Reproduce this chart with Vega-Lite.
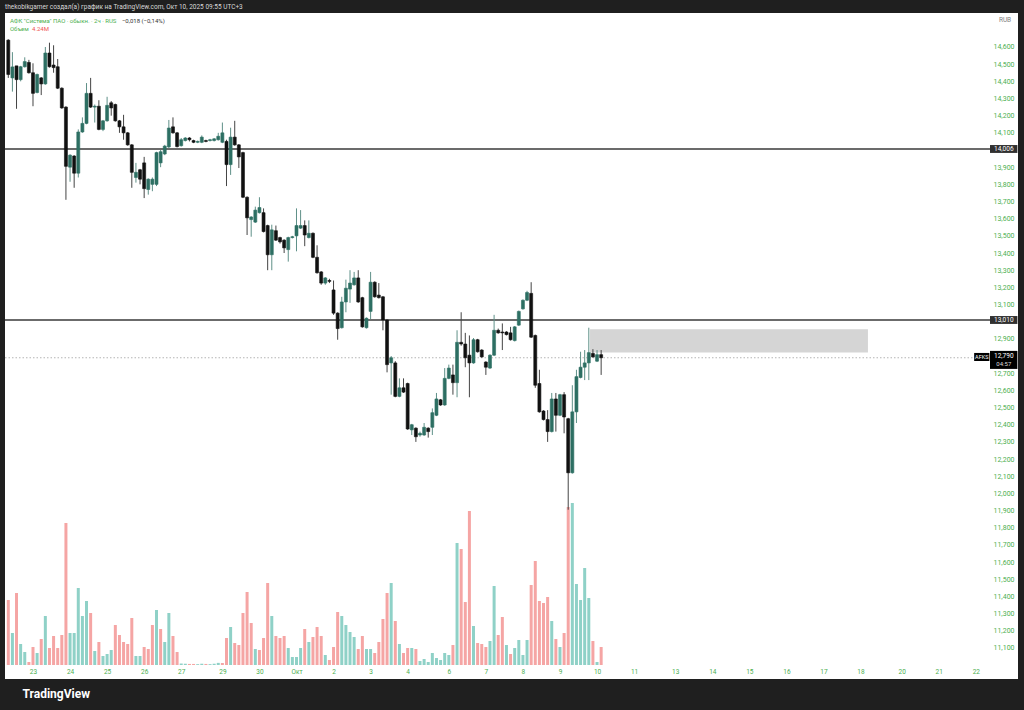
{
  "$schema": "https://vega.github.io/schema/vega-lite/v6.json",
  "width": 1013,
  "height": 666,
  "autosize": {"type": "none"},
  "padding": {"left": 5, "top": 13, "right": 6, "bottom": 31},
  "background": "#1f1f1f",
  "view": {"fill": "#ffffff", "stroke": null},
  "config": {"font": "Roboto", "axis": {"labelOverlap": false}, "scale": {"continuousPadding": 0}},
  "title": {
    "text": "thekobikgamer создал(а) график на TradingView.com, Окт 10, 2025 09:55 UTC+3",
    "anchor": "start",
    "color": "#d8d8d8",
    "fontSize": 6.5,
    "fontWeight": "normal",
    "offset": 3,
    "frame": "group"
  },
  "datasets": {
    "bars": [
      {"i":-6,"o":14.64,"h":14.645,"l":14.42,"c":14.44,"v":15.31,"d":"d"},
      {"i":-5,"o":14.42,"h":14.57,"l":14.34,"c":14.484,"v":7.54,"d":"u"},
      {"i":-4,"o":14.49,"h":14.49,"l":14.24,"c":14.41,"v":16.96,"d":"d"},
      {"i":-3,"o":14.41,"h":14.49,"l":14.4,"c":14.485,"v":4.95,"d":"u"},
      {"i":-2,"o":14.485,"h":14.54,"l":14.48,"c":14.515,"v":3.06,"d":"u"},
      {"i":-1,"o":14.51,"h":14.525,"l":14.445,"c":14.45,"v":0.71,"d":"d"},
      {"i":0,"o":14.45,"h":14.505,"l":14.255,"c":14.33,"v":4.24,"d":"d"},
      {"i":1,"o":14.335,"h":14.445,"l":14.33,"c":14.44,"v":2.83,"d":"u"},
      {"i":2,"o":14.42,"h":14.425,"l":14.32,"c":14.385,"v":6.13,"d":"d"},
      {"i":3,"o":14.385,"h":14.6,"l":14.38,"c":14.565,"v":11.54,"d":"u"},
      {"i":4,"o":14.565,"h":14.625,"l":14.48,"c":14.485,"v":4.01,"d":"d"},
      {"i":5,"o":14.495,"h":14.61,"l":14.45,"c":14.48,"v":6.83,"d":"d"},
      {"i":6,"o":14.485,"h":14.53,"l":14.355,"c":14.36,"v":4.01,"d":"d"},
      {"i":7,"o":14.36,"h":14.365,"l":14.24,"c":14.245,"v":7.07,"d":"d"},
      {"i":8,"o":14.25,"h":14.255,"l":13.71,"c":13.905,"v":33.46,"d":"d"},
      {"i":9,"o":13.9,"h":13.975,"l":13.815,"c":13.97,"v":7.54,"d":"u"},
      {"i":10,"o":13.965,"h":13.97,"l":13.78,"c":13.865,"v":7.54,"d":"u"},
      {"i":11,"o":13.865,"h":14.12,"l":13.84,"c":14.105,"v":18.14,"d":"u"},
      {"i":12,"o":14.105,"h":14.19,"l":14.1,"c":14.155,"v":11.54,"d":"u"},
      {"i":13,"o":14.155,"h":14.39,"l":14.15,"c":14.33,"v":15.08,"d":"u"},
      {"i":14,"o":14.33,"h":14.42,"l":14.245,"c":14.25,"v":12.25,"d":"d"},
      {"i":15,"o":14.25,"h":14.265,"l":14.16,"c":14.255,"v":3.3,"d":"u"},
      {"i":16,"o":14.255,"h":14.29,"l":14.115,"c":14.12,"v":5.42,"d":"d"},
      {"i":17,"o":14.12,"h":14.175,"l":14.11,"c":14.17,"v":2.12,"d":"u"},
      {"i":18,"o":14.17,"h":14.31,"l":14.165,"c":14.26,"v":2.59,"d":"u"},
      {"i":19,"o":14.275,"h":14.285,"l":14.2,"c":14.245,"v":3.53,"d":"u"},
      {"i":20,"o":14.265,"h":14.27,"l":14.165,"c":14.17,"v":9.42,"d":"d"},
      {"i":21,"o":14.17,"h":14.175,"l":14.1,"c":14.135,"v":7.07,"d":"d"},
      {"i":22,"o":14.135,"h":14.205,"l":14.06,"c":14.1,"v":5.42,"d":"d"},
      {"i":23,"o":14.1,"h":14.105,"l":14.025,"c":14.03,"v":4.95,"d":"d"},
      {"i":24,"o":14.03,"h":14.035,"l":13.78,"c":13.87,"v":11.07,"d":"d"},
      {"i":25,"o":13.84,"h":13.925,"l":13.81,"c":13.87,"v":2.12,"d":"u"},
      {"i":26,"o":13.885,"h":13.89,"l":13.8,"c":13.83,"v":2.12,"d":"u"},
      {"i":27,"o":13.925,"h":13.96,"l":13.72,"c":13.775,"v":4.24,"d":"d"},
      {"i":28,"o":13.77,"h":13.835,"l":13.74,"c":13.83,"v":3.77,"d":"d"},
      {"i":29,"o":13.8,"h":13.84,"l":13.76,"c":13.83,"v":9.42,"d":"d"},
      {"i":30,"o":13.8,"h":13.99,"l":13.79,"c":13.985,"v":12.96,"d":"u"},
      {"i":31,"o":13.925,"h":14.0,"l":13.9,"c":13.99,"v":8.48,"d":"d"},
      {"i":32,"o":13.977,"h":14.03,"l":13.97,"c":14.023,"v":5.42,"d":"u"},
      {"i":33,"o":14.018,"h":14.175,"l":14.01,"c":14.128,"v":12.25,"d":"u"},
      {"i":34,"o":14.135,"h":14.19,"l":14.095,"c":14.1,"v":6.83,"d":"d"},
      {"i":35,"o":14.1,"h":14.105,"l":14.015,"c":14.02,"v":3.06,"d":"d"},
      {"i":36,"o":14.025,"h":14.07,"l":14.02,"c":14.06,"v":0.35,"d":"u"},
      {"i":37,"o":14.055,"h":14.075,"l":14.05,"c":14.07,"v":0.3,"d":"u"},
      {"i":38,"o":14.07,"h":14.075,"l":14.05,"c":14.06,"v":0.25,"d":"d"},
      {"i":39,"o":14.055,"h":14.06,"l":14.04,"c":14.045,"v":0.25,"d":"d"},
      {"i":40,"o":14.045,"h":14.055,"l":14.04,"c":14.05,"v":0.2,"d":"u"},
      {"i":41,"o":14.045,"h":14.085,"l":14.04,"c":14.075,"v":0.3,"d":"u"},
      {"i":42,"o":14.055,"h":14.06,"l":14.045,"c":14.05,"v":0.25,"d":"d"},
      {"i":43,"o":14.055,"h":14.065,"l":14.05,"c":14.06,"v":0.2,"d":"u"},
      {"i":44,"o":14.055,"h":14.07,"l":14.05,"c":14.065,"v":0.3,"d":"u"},
      {"i":45,"o":14.06,"h":14.1,"l":14.055,"c":14.08,"v":0.5,"d":"u"},
      {"i":46,"o":14.045,"h":14.16,"l":14.04,"c":14.1,"v":0.47,"d":"d"},
      {"i":47,"o":14.05,"h":14.06,"l":13.79,"c":13.915,"v":6.36,"d":"d"},
      {"i":48,"o":13.915,"h":14.13,"l":13.855,"c":14.075,"v":8.95,"d":"u"},
      {"i":49,"o":14.075,"h":14.17,"l":14.025,"c":14.03,"v":5.18,"d":"d"},
      {"i":50,"o":14.03,"h":14.035,"l":13.895,"c":13.96,"v":4.71,"d":"d"},
      {"i":51,"o":13.985,"h":13.99,"l":13.72,"c":13.725,"v":12.25,"d":"d"},
      {"i":52,"o":13.725,"h":13.73,"l":13.505,"c":13.605,"v":17.2,"d":"d"},
      {"i":53,"o":13.595,"h":13.615,"l":13.495,"c":13.61,"v":9.9,"d":"d"},
      {"i":54,"o":13.58,"h":13.67,"l":13.575,"c":13.65,"v":3.77,"d":"u"},
      {"i":55,"o":13.635,"h":13.725,"l":13.63,"c":13.665,"v":3.53,"d":"d"},
      {"i":56,"o":13.635,"h":13.66,"l":13.52,"c":13.525,"v":6.36,"d":"d"},
      {"i":57,"o":13.56,"h":13.565,"l":13.3,"c":13.39,"v":19.32,"d":"d"},
      {"i":58,"o":13.39,"h":13.565,"l":13.3,"c":13.535,"v":11.54,"d":"u"},
      {"i":59,"o":13.53,"h":13.56,"l":13.47,"c":13.475,"v":6.83,"d":"d"},
      {"i":60,"o":13.49,"h":13.495,"l":13.455,"c":13.465,"v":6.36,"d":"d"},
      {"i":61,"o":13.475,"h":13.48,"l":13.4,"c":13.43,"v":6.83,"d":"d"},
      {"i":62,"o":13.42,"h":13.495,"l":13.35,"c":13.49,"v":4.01,"d":"u"},
      {"i":63,"o":13.49,"h":13.5,"l":13.485,"c":13.495,"v":1.88,"d":"u"},
      {"i":64,"o":13.5,"h":13.66,"l":13.41,"c":13.56,"v":1.88,"d":"u"},
      {"i":65,"o":13.545,"h":13.65,"l":13.54,"c":13.56,"v":4.01,"d":"u"},
      {"i":66,"o":13.56,"h":13.59,"l":13.44,"c":13.505,"v":8.48,"d":"d"},
      {"i":67,"o":13.49,"h":13.59,"l":13.485,"c":13.515,"v":5.42,"d":"u"},
      {"i":68,"o":13.515,"h":13.52,"l":13.37,"c":13.375,"v":6.6,"d":"d"},
      {"i":69,"o":13.375,"h":13.445,"l":13.28,"c":13.285,"v":8.95,"d":"d"},
      {"i":70,"o":13.29,"h":13.295,"l":13.215,"c":13.225,"v":6.83,"d":"d"},
      {"i":71,"o":13.225,"h":13.26,"l":13.215,"c":13.255,"v":2.36,"d":"u"},
      {"i":72,"o":13.24,"h":13.25,"l":13.225,"c":13.235,"v":1.18,"d":"d"},
      {"i":73,"o":13.185,"h":13.24,"l":13.04,"c":13.05,"v":4.24,"d":"d"},
      {"i":74,"o":13.05,"h":13.055,"l":12.895,"c":12.96,"v":12.49,"d":"d"},
      {"i":75,"o":12.965,"h":13.145,"l":12.96,"c":13.115,"v":11.54,"d":"u"},
      {"i":76,"o":13.115,"h":13.245,"l":13.055,"c":13.195,"v":9.42,"d":"u"},
      {"i":77,"o":13.19,"h":13.3,"l":13.11,"c":13.225,"v":7.77,"d":"u"},
      {"i":78,"o":13.215,"h":13.29,"l":13.21,"c":13.255,"v":6.6,"d":"u"},
      {"i":79,"o":13.255,"h":13.3,"l":13.11,"c":13.115,"v":3.77,"d":"d"},
      {"i":80,"o":13.14,"h":13.145,"l":12.965,"c":12.97,"v":6.83,"d":"d"},
      {"i":81,"o":12.965,"h":13.025,"l":12.96,"c":13.02,"v":3.77,"d":"u"},
      {"i":82,"o":13.06,"h":13.29,"l":13.015,"c":13.23,"v":3.77,"d":"u"},
      {"i":83,"o":13.23,"h":13.235,"l":13.14,"c":13.145,"v":2.83,"d":"d"},
      {"i":84,"o":13.155,"h":13.225,"l":13.135,"c":13.14,"v":5.42,"d":"d"},
      {"i":85,"o":13.145,"h":13.15,"l":12.95,"c":13.01,"v":10.84,"d":"d"},
      {"i":86,"o":13.01,"h":13.015,"l":12.705,"c":12.75,"v":16.96,"d":"d"},
      {"i":87,"o":12.76,"h":12.8,"l":12.575,"c":12.79,"v":19.32,"d":"u"},
      {"i":88,"o":12.76,"h":12.77,"l":12.56,"c":12.565,"v":10.37,"d":"d"},
      {"i":89,"o":12.565,"h":12.67,"l":12.56,"c":12.615,"v":4.95,"d":"u"},
      {"i":90,"o":12.615,"h":12.67,"l":12.585,"c":12.59,"v":2.83,"d":"d"},
      {"i":91,"o":12.64,"h":12.645,"l":12.37,"c":12.375,"v":4.01,"d":"d"},
      {"i":92,"o":12.37,"h":12.405,"l":12.34,"c":12.4,"v":4.01,"d":"u"},
      {"i":93,"o":12.38,"h":12.385,"l":12.3,"c":12.33,"v":3.77,"d":"d"},
      {"i":94,"o":12.34,"h":12.36,"l":12.33,"c":12.35,"v":0.94,"d":"u"},
      {"i":95,"o":12.34,"h":12.41,"l":12.335,"c":12.385,"v":1.41,"d":"u"},
      {"i":96,"o":12.38,"h":12.385,"l":12.325,"c":12.36,"v":0.71,"d":"u"},
      {"i":97,"o":12.385,"h":12.495,"l":12.34,"c":12.47,"v":2.83,"d":"u"},
      {"i":98,"o":12.455,"h":12.585,"l":12.45,"c":12.55,"v":1.65,"d":"u"},
      {"i":99,"o":12.545,"h":12.55,"l":12.51,"c":12.515,"v":1.18,"d":"u"},
      {"i":100,"o":12.515,"h":12.73,"l":12.51,"c":12.67,"v":2.83,"d":"u"},
      {"i":101,"o":12.67,"h":12.75,"l":12.665,"c":12.73,"v":2.36,"d":"u"},
      {"i":102,"o":12.69,"h":12.75,"l":12.575,"c":12.645,"v":4.71,"d":"d"},
      {"i":103,"o":12.645,"h":12.95,"l":12.56,"c":12.88,"v":28.74,"d":"u"},
      {"i":104,"o":12.88,"h":13.055,"l":12.86,"c":12.87,"v":27.33,"d":"d"},
      {"i":105,"o":12.87,"h":12.935,"l":12.735,"c":12.79,"v":14.84,"d":"d"},
      {"i":106,"o":12.805,"h":12.92,"l":12.56,"c":12.76,"v":36.28,"d":"d"},
      {"i":107,"o":12.76,"h":12.905,"l":12.755,"c":12.895,"v":9.19,"d":"u"},
      {"i":108,"o":12.895,"h":12.9,"l":12.82,"c":12.825,"v":5.18,"d":"d"},
      {"i":109,"o":12.835,"h":12.84,"l":12.79,"c":12.795,"v":4.95,"d":"d"},
      {"i":110,"o":12.765,"h":12.77,"l":12.69,"c":12.735,"v":4.24,"d":"d"},
      {"i":111,"o":12.73,"h":12.81,"l":12.725,"c":12.805,"v":5.65,"d":"u"},
      {"i":112,"o":12.805,"h":13.04,"l":12.8,"c":12.95,"v":18.61,"d":"u"},
      {"i":113,"o":12.95,"h":12.96,"l":12.93,"c":12.935,"v":7.07,"d":"d"},
      {"i":114,"o":12.94,"h":12.99,"l":12.835,"c":12.935,"v":11.31,"d":"d"},
      {"i":115,"o":12.94,"h":12.945,"l":12.92,"c":12.925,"v":4.71,"d":"u"},
      {"i":116,"o":12.935,"h":12.97,"l":12.89,"c":12.895,"v":2.59,"d":"d"},
      {"i":117,"o":12.89,"h":12.975,"l":12.885,"c":12.97,"v":4.01,"d":"u"},
      {"i":118,"o":12.98,"h":13.065,"l":12.975,"c":13.06,"v":5.89,"d":"u"},
      {"i":119,"o":13.075,"h":13.13,"l":13.07,"c":13.125,"v":2.36,"d":"u"},
      {"i":120,"o":13.125,"h":13.18,"l":13.12,"c":13.17,"v":5.89,"d":"u"},
      {"i":121,"o":13.165,"h":13.23,"l":12.905,"c":12.91,"v":18.85,"d":"d"},
      {"i":122,"o":12.92,"h":12.925,"l":12.615,"c":12.63,"v":24.5,"d":"d"},
      {"i":123,"o":12.64,"h":12.72,"l":12.47,"c":12.475,"v":15.08,"d":"d"},
      {"i":124,"o":12.48,"h":12.485,"l":12.425,"c":12.43,"v":14.61,"d":"d"},
      {"i":125,"o":12.43,"h":12.485,"l":12.3,"c":12.36,"v":16.02,"d":"d"},
      {"i":126,"o":12.36,"h":12.585,"l":12.355,"c":12.55,"v":10.37,"d":"u"},
      {"i":127,"o":12.55,"h":12.585,"l":12.36,"c":12.455,"v":6.13,"d":"d"},
      {"i":128,"o":12.455,"h":12.58,"l":12.45,"c":12.575,"v":4.24,"d":"u"},
      {"i":129,"o":12.575,"h":12.59,"l":12.35,"c":12.445,"v":7.54,"d":"d"},
      {"i":130,"o":12.435,"h":12.44,"l":11.905,"c":12.12,"v":37.22,"d":"d"},
      {"i":131,"o":12.12,"h":12.63,"l":12.115,"c":12.475,"v":38.17,"d":"u"},
      {"i":132,"o":12.475,"h":12.72,"l":12.41,"c":12.68,"v":19.08,"d":"u"},
      {"i":133,"o":12.675,"h":12.825,"l":12.67,"c":12.735,"v":15.31,"d":"u"},
      {"i":134,"o":12.735,"h":12.835,"l":12.66,"c":12.76,"v":22.85,"d":"u"},
      {"i":135,"o":12.76,"h":12.965,"l":12.66,"c":12.82,"v":15.79,"d":"u"},
      {"i":136,"o":12.815,"h":12.84,"l":12.79,"c":12.795,"v":5.65,"d":"d"},
      {"i":137,"o":12.77,"h":12.835,"l":12.765,"c":12.808,"v":0.71,"d":"u"},
      {"i":138,"o":12.808,"h":12.835,"l":12.69,"c":12.79,"v":4.24,"d":"d"}
    ],
    "levels": [{"p": 14.006, "t": "14,006"}, {"p": 13.01, "t": "13,010"}],
    "zone": [{"a": 135.3, "b": 202.8, "lo": 12.82, "hi": 12.956}],
    "one": [{}]
  },
  "resolve": {"scale": {"y": "independent"}},
  "layer": [
    {
      "data": {"name": "bars"},
      "mark": {"type": "bar", "size": 3},
      "encoding": {
        "x": {
          "field": "i", "type": "quantitative",
          "scale": {"domain": [-6.8, 239.25], "nice": false, "zero": false, "padding": 0},
          "axis": {
            "orient": "bottom", "offset": -14, "tickCount": 300,
            "values": [0, 9, 18, 27, 36, 46, 55, 64, 73, 82, 91, 101, 110, 119, 128, 137, 146, 156, 165, 174, 183, 192, 201, 211, 220, 229],
            "labelExpr": "['23','24','25','26','27','29','30','Окт','2','3','4','6','7','8','9','10','11','13','14','15','16','17','18','20','21','22'][indexof([0,9,18,27,36,46,55,64,73,82,91,101,110,119,128,137,146,156,165,174,183,192,201,211,220,229], datum.value)]",
            "labelColor": "#4caf50", "labelFontSize": 6.5, "labelPadding": 3,
            "labelOverlap": false, "labelFlush": false,
            "domain": false, "ticks": false, "grid": false,
            "title": "TradingView", "titleColor": "#ffffff", "titleFontSize": 12, "titleFontWeight": "bold",
            "titleX": 17, "titleY": 28, "titleAlign": "left", "titleAnchor": "start", "titleBaseline": "middle"
          }
        },
        "y": {"field": "v", "type": "quantitative", "scale": {"domain": [-3.298, 153.6], "nice": false, "zero": false, "padding": 0}, "axis": null},
        "y2": {"datum": 0},
        "color": {"field": "d", "type": "nominal", "scale": {"domain": ["u", "d"], "range": ["#8fd1c7", "#f5a5a4"]}, "legend": null}
      }
    },
    {
      "layer": [
        {
          "data": {"name": "zone"},
          "mark": {"type": "rect", "color": "#d5d5d5"},
          "encoding": {
            "x": {"field": "a", "type": "quantitative"},
            "x2": {"field": "b"},
            "y": {
              "field": "lo", "type": "quantitative",
              "scale": {"domain": [10.919, 14.798], "nice": false, "zero": false, "padding": 0},
              "axis": {
                "orient": "right", "offset": -28, "tickCount": 300,
                "values": [11.1, 11.2, 11.3, 11.4, 11.5, 11.6, 11.7, 11.8, 11.9, 12.0, 12.1, 12.2, 12.3, 12.4, 12.5, 12.6, 12.7, 12.9, 13.1, 13.2, 13.3, 13.4, 13.5, 13.6, 13.7, 13.8, 13.9, 14.1, 14.2, 14.3, 14.4, 14.5, 14.6],
                "labelExpr": "replace(format(datum.value, '.3f'), '.', ',')",
                "labelColor": "#4caf50", "labelFontSize": 7, "labelPadding": 3,
                "labelAlign": "left", "labelBaseline": "middle",
                "labelOverlap": false, "labelFlush": false, "labelBound": false,
                "domain": false, "ticks": false, "grid": false, "title": null
              }
            },
            "y2": {"field": "hi"}
          }
        },
        {
          "data": {"name": "levels"},
          "mark": {"type": "rule", "color": "#3a3a3a", "strokeWidth": 1.5},
          "encoding": {
            "y": {"field": "p", "type": "quantitative"},
            "x": {"datum": -6.8, "type": "quantitative"},
            "x2": {"datum": 232.45}
          }
        },
        {
          "data": {"name": "one"},
          "mark": {"type": "rule", "color": "#b5b5b5", "strokeWidth": 1, "strokeDash": [1.5, 2]},
          "encoding": {
            "y": {"datum": 12.79, "type": "quantitative"},
            "x": {"datum": -6.8, "type": "quantitative"},
            "x2": {"datum": 228.6}
          }
        },
        {
          "data": {"name": "bars"},
          "mark": {"type": "rule", "strokeWidth": 1},
          "encoding": {
            "x": {"field": "i", "type": "quantitative"},
            "y": {"field": "l", "type": "quantitative"},
            "y2": {"field": "h"},
            "color": {"condition": {"test": "datum.c >= datum.o", "value": "#5f9088"}, "value": "#444444"}
          }
        },
        {
          "data": {"name": "bars"},
          "mark": {"type": "bar", "size": 3, "strokeWidth": 0.6},
          "encoding": {
            "x": {"field": "i", "type": "quantitative"},
            "y": {"field": "o", "type": "quantitative"},
            "y2": {"field": "c"},
            "color": {"condition": {"test": "datum.c >= datum.o", "value": "#2d6f63"}, "value": "#111111"},
            "stroke": {"condition": {"test": "datum.c >= datum.o", "value": "#2d6f63"}, "value": "#111111"}
          }
        },
        {
          "data": {"name": "one"},
          "mark": {"type": "rect", "color": "#303030"},
          "encoding": {
            "x": {"datum": 232.45, "type": "quantitative"},
            "x2": {"datum": 239.1},
            "y": {"datum": 13.983, "type": "quantitative"},
            "y2": {"datum": 14.029}
          }
        },
        {
          "data": {"name": "one"},
          "mark": {"type": "rect", "color": "#303030"},
          "encoding": {
            "x": {"datum": 232.45, "type": "quantitative"},
            "x2": {"datum": 239.1},
            "y": {"datum": 12.987, "type": "quantitative"},
            "y2": {"datum": 13.033}
          }
        },
        {
          "data": {"name": "levels"},
          "mark": {"type": "text", "color": "#ffffff", "fontSize": 6.5, "align": "center", "baseline": "middle"},
          "encoding": {
            "x": {"datum": 235.8, "type": "quantitative"},
            "y": {"field": "p", "type": "quantitative"},
            "text": {"field": "t"}
          }
        },
        {
          "data": {"name": "one"},
          "mark": {"type": "rect", "color": "#000000"},
          "encoding": {
            "x": {"datum": 232.45, "type": "quantitative"},
            "x2": {"datum": 239.1},
            "y": {"datum": 12.725, "type": "quantitative"},
            "y2": {"datum": 12.83}
          }
        },
        {
          "data": {"name": "one"},
          "mark": {"type": "rect", "color": "#000000"},
          "encoding": {
            "x": {"datum": 228.6, "type": "quantitative"},
            "x2": {"datum": 232.3},
            "y": {"datum": 12.771, "type": "quantitative"},
            "y2": {"datum": 12.818}
          }
        },
        {
          "data": {"name": "one"},
          "mark": {"type": "text", "color": "#ffffff", "fontSize": 6.5, "align": "center", "baseline": "middle"},
          "encoding": {
            "x": {"datum": 235.8, "type": "quantitative"},
            "y": {"datum": 12.803, "type": "quantitative"},
            "text": {"value": "12,790"}
          }
        },
        {
          "data": {"name": "one"},
          "mark": {"type": "text", "color": "#dddddd", "fontSize": 6, "align": "center", "baseline": "middle"},
          "encoding": {
            "x": {"datum": 235.8, "type": "quantitative"},
            "y": {"datum": 12.755, "type": "quantitative"},
            "text": {"value": "04:57"}
          }
        },
        {
          "data": {"name": "one"},
          "mark": {"type": "text", "color": "#ffffff", "fontSize": 5.5, "align": "center", "baseline": "middle"},
          "encoding": {
            "x": {"datum": 230.45, "type": "quantitative"},
            "y": {"datum": 12.794, "type": "quantitative"},
            "text": {"value": "AFKS"}
          }
        },
        {
          "data": {"name": "one"},
          "mark": {"type": "text", "color": "#808080", "fontSize": 6.5, "align": "center", "baseline": "middle"},
          "encoding": {
            "x": {"datum": 236.1, "type": "quantitative"},
            "y": {"datum": 14.755, "type": "quantitative"},
            "text": {"value": "RUB"}
          }
        },
        {
          "data": {"name": "one"},
          "mark": {"type": "text", "color": "#4caf50", "fontSize": 6, "align": "left", "baseline": "middle"},
          "encoding": {
            "x": {"datum": -5.6, "type": "quantitative"},
            "y": {"datum": 14.754, "type": "quantitative"},
            "text": {"value": "АФК \"Система\" ПАО · обыкн. · 2ч · RUS"}
          }
        },
        {
          "data": {"name": "one"},
          "mark": {"type": "text", "color": "#333333", "fontSize": 6, "align": "left", "baseline": "middle"},
          "encoding": {
            "x": {"datum": 21.6, "type": "quantitative"},
            "y": {"datum": 14.754, "type": "quantitative"},
            "text": {"value": "−0,018 (−0,14%)"}
          }
        },
        {
          "data": {"name": "one"},
          "mark": {"type": "text", "color": "#4caf50", "fontSize": 6, "align": "left", "baseline": "middle"},
          "encoding": {
            "x": {"datum": -5.6, "type": "quantitative"},
            "y": {"datum": 14.705, "type": "quantitative"},
            "text": {"value": "Объем"}
          }
        },
        {
          "data": {"name": "one"},
          "mark": {"type": "text", "color": "#ef5350", "fontSize": 6, "align": "left", "baseline": "middle"},
          "encoding": {
            "x": {"datum": -0.24, "type": "quantitative"},
            "y": {"datum": 14.705, "type": "quantitative"},
            "text": {"value": "4.24M"}
          }
        }
      ]
    }
  ]
}
